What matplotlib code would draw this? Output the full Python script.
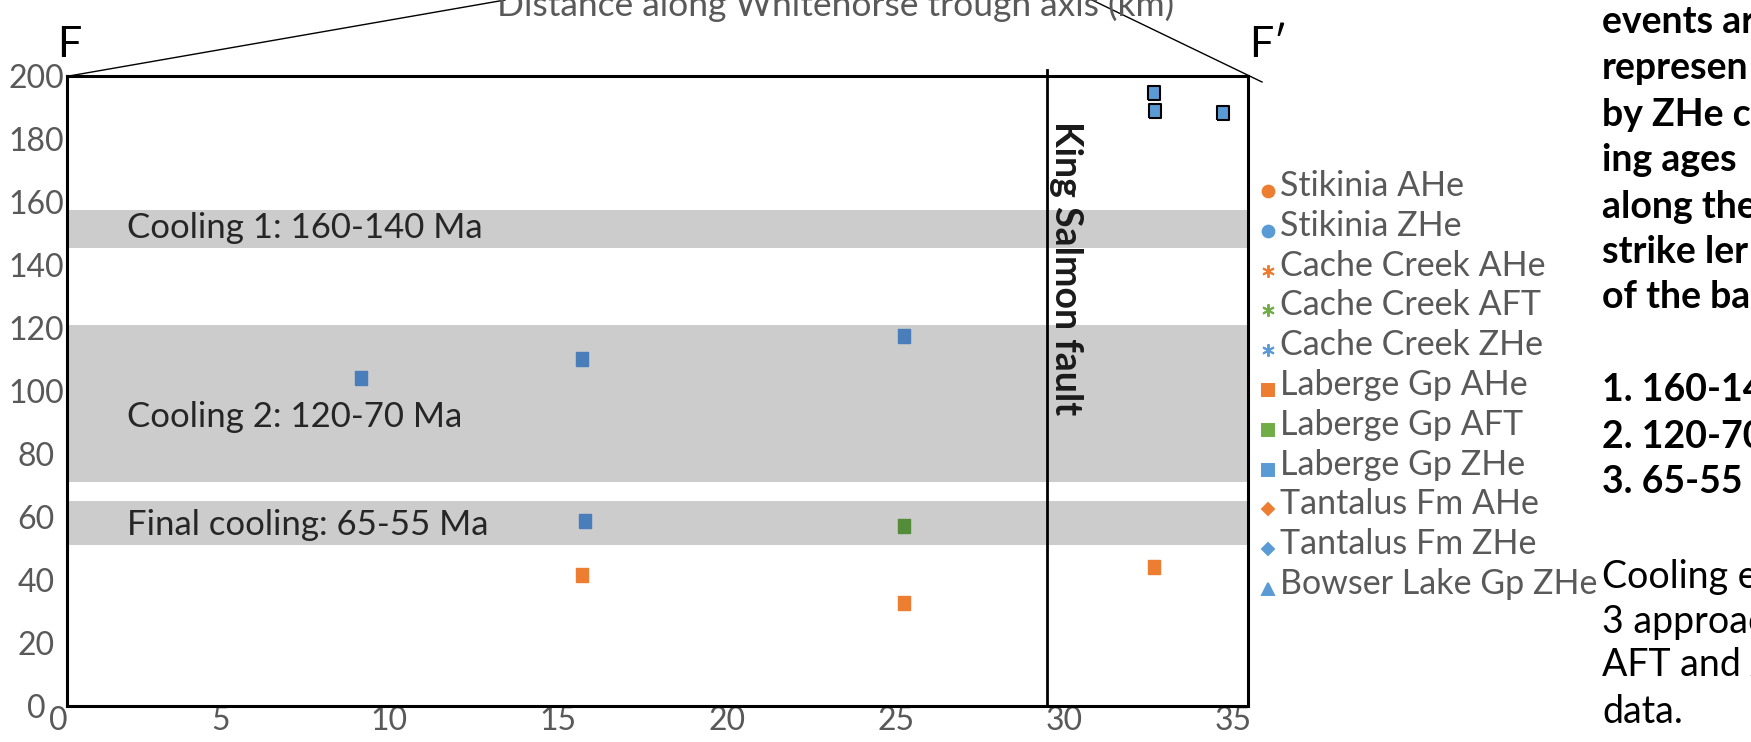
import matplotlib
matplotlib.use("Agg")
import matplotlib.pyplot as plt
from matplotlib.lines import Line2D
from matplotlib.transforms import ScaledTranslation

plt.rcParams['font.family'] = ['Lato', 'DejaVu Sans']

# ---------------- data ----------------
laberge_zhe_x = [8.7, 15.25, 24.8, 15.35]
laberge_zhe_y = [104.0, 110.3, 117.6, 58.8]
laberge_aft_x = [24.8]
laberge_aft_y = [57.0]
laberge_ahe_x = [15.25, 24.8, 32.2]
laberge_ahe_y = [41.7, 32.6, 44.0]
east_zhe_x = [32.2, 32.25, 34.25]
east_zhe_y = [194.6, 189.0, 188.2]

band_low = [145.5, 71.0, 51.0]
band_high = [157.5, 120.8, 65.2]
band_labels = ["Cooling 1: 160-140 Ma", "Cooling 2: 120-70 Ma", "Final cooling: 65-55 Ma"]
band_label_y = [151.7, 91.7, 57.5]

fault_x = 29.05
x_ticks = [0, 5, 10, 15, 20, 25, 30, 35]
y_ticks = [0, 20, 40, 60, 80, 100, 120, 140, 160, 180, 200]

legend_labels = ["Stikinia AHe", "Stikinia ZHe", "Cache Creek AHe", "Cache Creek AFT",
                 "Cache Creek ZHe", "Laberge Gp AHe", "Laberge Gp AFT", "Laberge Gp ZHe",
                 "Tantalus Fm AHe", "Tantalus Fm ZHe", "Bowser Lake Gp ZHe"]

side_bold = ["events ar", "represen", "by ZHe co", "ing ages", "along the",
             "strike ler", "of the ba", "", "1. 160-14", "2. 120-70", "3. 65-55 M"]
side_regular = ["Cooling e", "3 approac", "AFT and A", "data."]

# ---------------- colours ----------------
ORANGE = '#ed7d31'
BLUE = '#5b9bd5'
GREEN = '#70ad47'
PLOT_BLUE = '#4a7ebb'
PLOT_GREEN = '#548c3a'
GRAY_TXT = '#595959'
BAND = '#cccccc'

rect = [(-0.4, -0.5), (0.4, -0.5), (0.4, 0.5), (-0.4, 0.5), (-0.4, -0.5)]

W, H, DPI = 1751, 742, 100
fig = plt.figure(figsize=(W / DPI, H / DPI), dpi=DPI)
ax = fig.add_axes([67 / W, 36 / H, 1181 / W, 630 / H])
ax.set_xlim(0, 35)
ax.set_ylim(0, 200)

for lo, hi in zip(band_low, band_high):
    ax.axhspan(lo, hi, color=BAND, lw=0, zorder=0)
for lab, yy in zip(band_labels, band_label_y):
    ax.text(1.78, yy, lab, fontsize=25, color='#262626', va='center', ha='left', zorder=2)

ax.axvline(fault_x, ymax=1.01, color='black', lw=2.0, zorder=3, clip_on=False)
ax.text(29.6, 139, "King Salmon fault", rotation=-90, fontsize=27, fontweight='bold',
        color='#1a1a1a', ha='center', va='center', zorder=4)

ax.plot(laberge_zhe_x, laberge_zhe_y, ls='none', marker=rect, ms=10, color=PLOT_BLUE, zorder=5)
ax.plot(laberge_aft_x, laberge_aft_y, ls='none', marker=rect, ms=10, color=PLOT_GREEN, zorder=5)
ax.plot(laberge_ahe_x, laberge_ahe_y, ls='none', marker=rect, ms=10, color=ORANGE, zorder=5)
ax.plot(east_zhe_x, east_zhe_y, ls='none', marker=rect, ms=10, mfc=BLUE, mec='black',
        mew=1.5, zorder=5)

for s in ax.spines.values():
    s.set_linewidth(2.2)
    s.set_color('black')
ax.set_xticks(x_ticks)
ax.set_yticks(y_ticks)
ax.tick_params(length=0, labelsize=23, labelcolor=GRAY_TXT)
ax.tick_params(axis='x', pad=0)
ax.tick_params(axis='y', pad=0)
for i, lab in enumerate(ax.get_xticklabels()):
    dx = -9 if i == 0 else -15
    lab.set_transform(lab.get_transform() + ScaledTranslation(dx / DPI, 0, fig.dpi_scale_trans))
for lab in ax.get_yticklabels():
    lab.set_horizontalalignment('center')
    lab.set_transform(lab.get_transform() + ScaledTranslation(-31 / DPI, 0, fig.dpi_scale_trans))

# legend (drawn item by item)
legend_markers = [('o', ORANGE, 8.5), ('o', BLUE, 8.5),
                  ((6, 2, 0), ORANGE, 9), ((6, 2, 0), GREEN, 9), ((6, 2, 0), BLUE, 9),
                  ('s', ORANGE, 8), ('s', GREEN, 8), ('s', BLUE, 8),
                  ('D', ORANGE, 6.5), ('D', BLUE, 6.5), ('^', BLUE, 8.5)]
for i, (lab, (mk, col, ms)) in enumerate(zip(legend_labels, legend_markers)):
    yy = 1 - (186 + i * 39.8) / H
    fig.add_artist(Line2D([1268 / W], [yy - 5 / H], ls='none', marker=mk, color=col, ms=ms,
                          mew=1.4, transform=fig.transFigure))
    fig.text(1280 / W, yy, lab, fontsize=24.5, color=GRAY_TXT, ha='left', va='center')

# F / F' labels and guide lines
fig.text(69 / W, 1 - 45 / H, "F", fontsize=31, ha='center', va='center', color='black')
fig.text(1268 / W, 1 - 45 / H, "F\u2032", fontsize=31, ha='center', va='center', color='black')
fig.text(497 / W, 1 - 16 / H, "Distance along Whitehorse trough axis (km)", fontsize=25.5,
         color=GRAY_TXT, ha='left', va='baseline')
fig.add_artist(Line2D([69 / W, 505 / W], [1 - 76 / H, 1 - 0 / H], color='black', lw=1.0,
                      transform=fig.transFigure))
fig.add_artist(Line2D([1092 / W, 1262 / W], [1 - 0 / H, 1 - 82 / H], color='black', lw=1.0,
                      transform=fig.transFigure))

# side text column
ys = [22, 68, 115, 160, 207, 252, 297, 343, 390, 437, 482]
for txt, yy in zip(side_bold, ys):
    if txt:
        fig.text(1602 / W, 1 - yy / H, txt, fontsize=27, fontweight='bold', color='black',
                 ha='left', va='center')
ys2 = [577, 622, 665, 712]
for txt, yy in zip(side_regular, ys2):
    fig.text(1602 / W, 1 - yy / H, txt, fontsize=27, color='black', ha='left', va='center')

fig.savefig("out.png", dpi=DPI)
